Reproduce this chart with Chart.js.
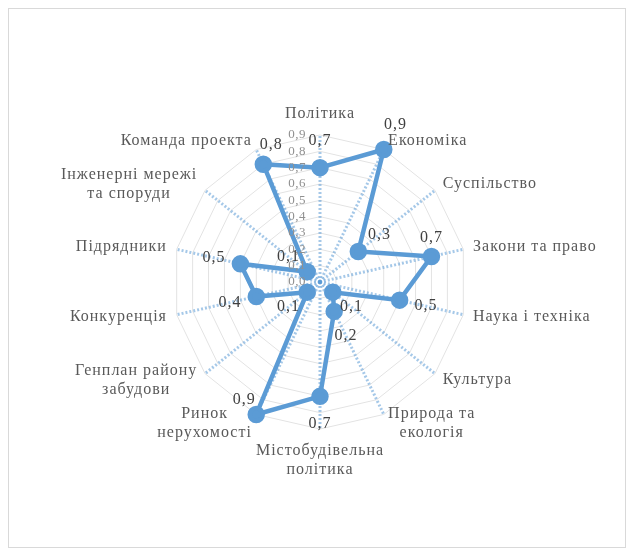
<!DOCTYPE html>
<html>
<head>
<meta charset="utf-8">
<script src="https://cdn.jsdelivr.net/npm/chart.js@4.4.0/dist/chart.umd.min.js"></script>
<style>
  html, body { margin: 0; padding: 0; background: #fff; }
  #frame { position: absolute; left: 8px; top: 8px; width: 616px; height: 538px; border: 1px solid #d9d9d9; }
  #wrap { position: absolute; left: 0; top: 0; width: 633px; height: 554px; }
</style>
</head>
<body>
<div id="frame"></div>
<div id="wrap"><canvas id="myChart"></canvas></div>
<script>
const categories = [
  'Політика',
  'Економіка',
  'Суспільство',
  'Закони та право',
  'Наука і техніка',
  'Культура',
  ['Природа та', 'екологія'],
  ['Містобудівельна', 'політика'],
  ['Ринок', 'нерухомості'],
  ['Генплан району', 'забудови'],
  'Конкуренція',
  'Підрядники',
  ['Інженерні мережі', 'та споруди'],
  'Команда проекта'
];
const values = [0.7, 0.9, 0.3, 0.7, 0.5, 0.1, 0.2, 0.7, 0.9, 0.1, 0.4, 0.5, 0.1, 0.8];
const tickValues = [0, 0.1, 0.2, 0.3, 0.4, 0.5, 0.6, 0.7, 0.8, 0.9];

const fmt = v => v.toFixed(1).replace('.', ',');

// axis numbers, a bit left of the top spoke like in the original
const tickText = {
  id: 'tickText',
  afterDraw(chart) {
    const s = chart.scales.r;
    const ctx = chart.ctx;
    ctx.save();
    ctx.font = '13px "Liberation Serif"';
    ctx.letterSpacing = '0.5px';
    ctx.fillStyle = '#909090';
    ctx.textAlign = 'center';
    ctx.textBaseline = 'middle';
    tickValues.forEach(v => {
      const d = s.getDistanceFromCenterForValue(v);
      ctx.fillText(fmt(v), s.xCenter - 23, s.yCenter - d);
    });
    ctx.restore();
  }
};

// category names, centred vertically on their spoke direction (excel style)
const catText = {
  id: 'catText',
  afterDraw(chart) {
    const s = chart.scales.r;
    const ctx = chart.ctx;
    const lh = 19;
    ctx.save();
    ctx.font = '16px "Liberation Serif"';
    ctx.letterSpacing = '1px';
    ctx.fillStyle = '#595959';
    ctx.textBaseline = 'middle';
    ctx.textAlign = 'center';
    categories.forEach((lab, i) => {
      const lines = Array.isArray(lab) ? lab : [lab];
      const a = s.getIndexAngle(i);
      const sin = Math.sin(a), cos = Math.cos(a);
      const pos = s.getPointPosition(i, s.drawingArea + 10);
      const w = Math.max(...lines.map(l => ctx.measureText(l).width));
      const h = lines.length * lh;
      let cx = pos.x, cy = pos.y;
      if (Math.abs(sin) < 0.05) {
        cy += cos > 0 ? -h / 2 - 2 : h / 2 + 2;
      } else {
        cx += sin > 0 ? w / 2 : -w / 2;
      }
      lines.forEach((ln, k) => ctx.fillText(ln, cx, cy + (k - (lines.length - 1) / 2) * lh));
    });
    ctx.restore();
  }
};

// value labels: outward from the point, or just above it when the point
// sits near the rim on a slanted spoke (so it doesn't hit the category name)
const valueText = {
  id: 'valueText',
  afterDatasetsDraw(chart) {
    const s = chart.scales.r;
    const ctx = chart.ctx;
    const meta = chart.getDatasetMeta(0);
    ctx.save();
    ctx.font = '16px "Liberation Serif"';
    ctx.letterSpacing = '1px';
    ctx.fillStyle = '#404040';
    ctx.textAlign = 'center';
    ctx.textBaseline = 'middle';
    meta.data.forEach((pt, i) => {
      const a = s.getIndexAngle(i);
      const sin = Math.sin(a), cos = Math.cos(a);
      let dx, dy;
      if (values[i] >= 0.7 && Math.abs(sin) > 0.05 && Math.abs(sin) < 0.99 && !(values[i] >= 0.9 && cos > 0)) {
        dx = sin > 0 ? 0 : (cos > 0 ? 8 : -12);
        dy = cos > 0 ? -19 : -15;
      } else {
        const off = values[i] < 0.15 ? 24 : 27;
        dx = sin * off;
        dy = -cos * off;
      }
      if (Math.abs(sin) >= 0.99 && values[i] >= 0.7) { dx = 0; dy = -16; }
      ctx.fillText(fmt(values[i]), pt.x + dx, pt.y + dy);
    });
    ctx.restore();
  }
};

var ctx = document.getElementById('myChart');

var myChart = new Chart(ctx, {
  type: 'radar',
  data: {
    labels: categories,
    datasets: [{
      data: values,
      borderColor: '#5b9bd5',
      backgroundColor: 'rgba(0,0,0,0)',
      borderWidth: 4.5,
      pointRadius: 6.5,
      pointBackgroundColor: '#5b9bd5',
      pointBorderColor: '#5b9bd5',
      fill: false
    }]
  },
  options: {
    responsive: true,
    maintainAspectRatio: false,
    animation: false,
    layout: { padding: { left: 173, right: 166, top: 135, bottom: 125 } },
    plugins: { legend: { display: false }, tooltip: { enabled: false } },
    scales: {
      r: {
        min: 0,
        max: 0.9,
        ticks: { stepSize: 0.1, display: false },
        grid: { color: '#e3e3e3', lineWidth: 1 },
        angleLines: { color: 'rgba(91,155,213,0.55)', lineWidth: 3, borderDash: [2, 2] },
        pointLabels: { display: false }
      }
    }
  },
  plugins: [tickText, catText, valueText]
});
</script>
</body>
</html>
